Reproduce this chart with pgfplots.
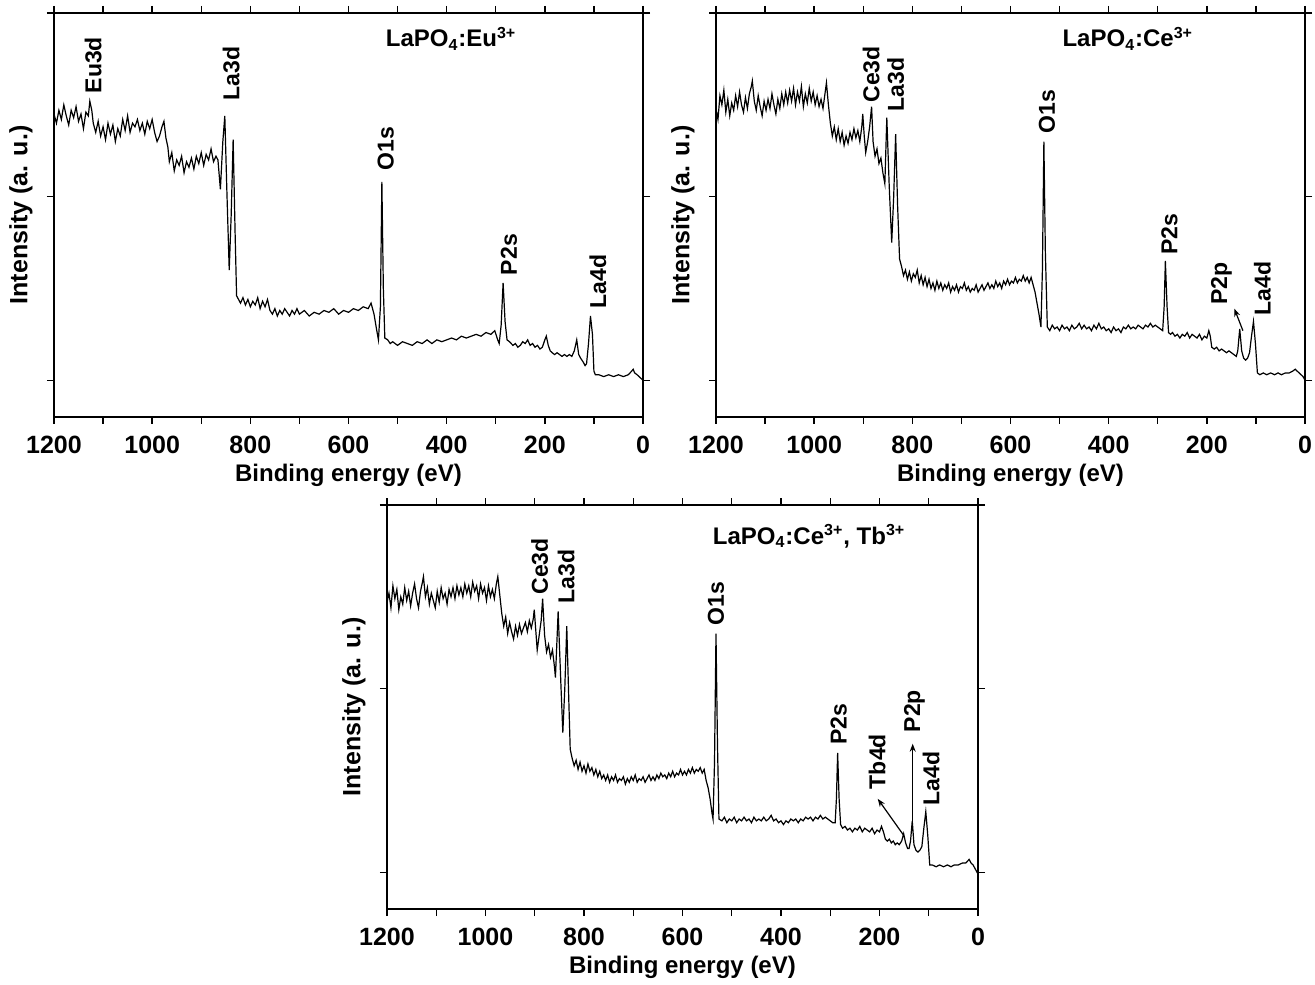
\documentclass[border=0pt]{standalone}
\usepackage{fontspec}
\setmainfont{Liberation Sans}
\usepackage{pgfplots}
\pgfplotsset{compat=1.18}
\usetikzlibrary{arrows.meta}

\pgfplotsset{
  xps/.style={
    scale only axis,
    anchor=south west,
    height=202pt,
    xmin=0, xmax=1200, x dir=reverse,
    ymin=0.8, ymax=3,
    xtick={0,200,...,1200},
    minor xtick={100,300,...,1100},
    ytick={1,2,3}, yticklabels={},
    tick align=outside,
    xtick pos=both, ytick pos=both,
    major tick length=3.5pt, minor tick length=3.5pt,
    tick style={black, line width=0.7pt},
    axis line style={line width=0.8pt},
    /pgf/number format/assume math mode=true,
    /pgf/number format/1000 sep={},
    xticklabel style={font=\fontsize{12.5}{14}\selectfont\bfseries, yshift=-2.5pt},
    xlabel={Binding energy (eV)},
    ylabel={Intensity (a. u.)},
    label style={font=\fontsize{12}{14}\selectfont\bfseries},
    ylabel style={font=\fontsize{12.5}{14}\selectfont\bfseries},
    xlabel style={at={(axis description cs:0.5,0)}, anchor=center, yshift=-29pt},
    ylabel style={at={(axis description cs:-0.056,0.5)}, anchor=center},
  },
  spec/.style={black, mark=none, line width=0.6pt},
}
\tikzset{
  pk/.style={rotate=90, anchor=west, font=\fontsize{11.5}{13}\selectfont\bfseries, inner sep=1pt},
  ttl/.style={font=\fontsize{12}{14}\selectfont\bfseries},
}

\begin{document}
\begin{tikzpicture}
\useasboundingbox (0,0) rectangle (657.5pt,492pt);

% LaPO4:Eu3+
\begin{axis}[xps, at={(27pt,283.5pt)}, width=294.5pt]
\addplot[spec] coordinates {
(1200,2.45) (1195,2.40) (1190,2.47) (1185,2.42) (1180,2.50) (1175,2.44) (1170,2.39) (1165,2.47)
(1160,2.43) (1155,2.49) (1150,2.41) (1145,2.45) (1140,2.37) (1135,2.46) (1130,2.44) (1127,2.52)
(1123,2.47) (1120,2.40) (1115,2.35) (1110,2.41) (1105,2.33) (1100,2.38) (1095,2.31) (1090,2.40)
(1085,2.34) (1080,2.39) (1075,2.30) (1070,2.37) (1065,2.33) (1060,2.42) (1055,2.36) (1050,2.44)
(1045,2.35) (1040,2.40) (1035,2.38) (1030,2.42) (1025,2.36) (1020,2.40) (1015,2.34) (1010,2.41)
(1005,2.37) (1000,2.42) (995,2.35) (990,2.30) (985,2.33) (980,2.38) (976,2.41) (972,2.32)
(968,2.27) (965,2.19) (960,2.24) (955,2.14) (950,2.20) (945,2.17) (940,2.22) (935,2.13)
(930,2.19) (925,2.16) (920,2.21) (915,2.15) (910,2.22) (905,2.18) (900,2.24) (895,2.17)
(890,2.23) (885,2.20) (880,2.26) (875,2.19) (870,2.22) (866,2.20) (861,2.04) (856,2.30)
(852,2.44) (848,2.05) (843,1.60) (839,1.90) (835,2.31) (831,1.80) (828,1.46) (824,1.44)
(820,1.42) (815,1.45) (810,1.41) (805,1.44) (800,1.40) (795,1.43) (790,1.41) (785,1.45)
(780,1.39) (775,1.43) (770,1.40) (765,1.44) (760,1.38) (755,1.36) (750,1.39) (745,1.35)
(740,1.38) (735,1.36) (730,1.39) (725,1.37) (720,1.35) (715,1.38) (710,1.36) (705,1.39)
(700,1.36) (690,1.38) (680,1.35) (670,1.37) (660,1.36) (650,1.38) (640,1.37) (630,1.39)
(620,1.36) (610,1.38) (600,1.37) (590,1.39) (580,1.38) (570,1.40) (560,1.39) (554,1.42)
(548,1.36) (543,1.28) (539,1.22) (535,1.40) (532,2.08) (529,1.50) (526,1.23) (520,1.22)
(515,1.20) (510,1.21) (500,1.19) (490,1.21) (480,1.20) (470,1.19) (460,1.21) (450,1.20)
(440,1.22) (430,1.20) (420,1.22) (410,1.21) (400,1.22) (390,1.23) (380,1.22) (370,1.24)
(360,1.23) (350,1.24) (340,1.25) (330,1.24) (320,1.26) (310,1.25) (302,1.27) (296,1.22)
(293,1.20) (289,1.30) (285,1.53) (281,1.32) (277,1.22) (272,1.21) (265,1.19) (260,1.20)
(255,1.18) (250,1.19) (245,1.21) (240,1.20) (235,1.22) (230,1.19) (225,1.20) (220,1.18)
(215,1.19) (210,1.17) (205,1.18) (200,1.22) (197,1.24) (193,1.19) (189,1.16) (185,1.15)
(180,1.14) (175,1.15) (170,1.14) (165,1.13) (160,1.14) (155,1.13) (150,1.14) (145,1.13)
(140,1.16) (135,1.22) (131,1.14) (127,1.12) (122,1.10) (118,1.08) (115,1.09) (111,1.20)
(107,1.35) (103,1.25) (100,1.05) (97,1.03) (90,1.03) (80,1.02) (70,1.03) (60,1.02)
(50,1.03) (40,1.02) (30,1.03) (23,1.05) (20,1.06) (17,1.04) (12,1.03) (8,1.02) (4,1.01) (0,1.00)
};
\node[ttl] at (axis cs:391,2.86) {LaPO\textsubscript{4}:Eu\textsuperscript{3+}};
\node[pk] at (axis cs:1120,2.55) {Eu3d};
\node[pk] at (axis cs:839,2.51) {La3d};
\node[pk] at (axis cs:524,2.13) {O1s};
\node[pk] at (axis cs:273,1.56) {P2s};
\node[pk] at (axis cs:92,1.38) {La4d};
\end{axis}

% LaPO4:Ce3+
\begin{axis}[xps, at={(358pt,283.5pt)}, width=294.5pt]
\addplot[spec] coordinates {
(1200,2.48) (1196,2.42) (1192,2.55) (1188,2.50) (1184,2.58) (1180,2.46) (1176,2.53) (1172,2.44)
(1168,2.51) (1164,2.47) (1160,2.55) (1156,2.49) (1152,2.57) (1148,2.50) (1144,2.46) (1140,2.54)
(1136,2.48) (1132,2.56) (1128,2.60) (1126,2.63) (1122,2.52) (1118,2.47) (1114,2.55) (1110,2.49)
(1106,2.44) (1102,2.52) (1098,2.47) (1094,2.53) (1090,2.48) (1086,2.56) (1082,2.50) (1078,2.45)
(1074,2.53) (1070,2.48) (1066,2.56) (1062,2.50) (1058,2.57) (1054,2.51) (1050,2.58) (1046,2.52)
(1042,2.59) (1038,2.50) (1034,2.57) (1030,2.52) (1026,2.60) (1022,2.49) (1018,2.56) (1014,2.51)
(1010,2.59) (1006,2.52) (1002,2.57) (998,2.50) (994,2.55) (990,2.49) (986,2.53) (982,2.48)
(978,2.56) (975,2.62) (971,2.50) (967,2.40) (963,2.33) (959,2.38) (955,2.31) (951,2.37)
(947,2.30) (943,2.35) (939,2.28) (935,2.33) (931,2.29) (927,2.35) (923,2.31) (919,2.37)
(915,2.32) (911,2.36) (907,2.30) (903,2.38) (901,2.45) (898,2.33) (895,2.24) (891,2.30)
(887,2.38) (883,2.49) (880,2.30) (876,2.22) (872,2.26) (868,2.18) (864,2.21) (860,2.13)
(856,2.07) (852,2.43) (847,2.05) (842,1.75) (838,2.00) (834,2.34) (830,1.95) (826,1.66)
(822,1.62) (818,1.57) (814,1.60) (810,1.55) (806,1.59) (802,1.54) (798,1.58) (794,1.56)
(790,1.60) (786,1.53) (782,1.57) (778,1.52) (774,1.56) (770,1.51) (766,1.55) (762,1.50)
(758,1.53) (754,1.49) (750,1.54) (746,1.50) (742,1.53) (738,1.49) (734,1.52) (730,1.50)
(726,1.53) (722,1.48) (718,1.51) (714,1.49) (710,1.52) (706,1.48) (702,1.51) (698,1.50)
(694,1.53) (690,1.49) (686,1.51) (682,1.48) (678,1.50) (674,1.49) (670,1.52) (666,1.48)
(662,1.50) (658,1.52) (654,1.49) (650,1.51) (646,1.53) (642,1.50) (638,1.52) (634,1.50)
(630,1.54) (626,1.51) (622,1.53) (618,1.50) (614,1.54) (610,1.52) (606,1.55) (602,1.52)
(598,1.54) (594,1.53) (590,1.56) (586,1.53) (582,1.55) (578,1.54) (574,1.57) (570,1.54)
(566,1.56) (562,1.53) (558,1.56) (554,1.52) (550,1.48) (546,1.42) (542,1.36) (538,1.29)
(535,1.60) (532,2.30) (529,1.70) (525,1.29) (520,1.27) (515,1.30) (510,1.28) (505,1.29)
(500,1.27) (495,1.30) (490,1.28) (485,1.29) (480,1.27) (475,1.30) (470,1.28) (465,1.29)
(460,1.31) (455,1.28) (450,1.30) (445,1.28) (440,1.29) (435,1.27) (430,1.30) (425,1.28)
(420,1.31) (415,1.28) (410,1.29) (405,1.27) (400,1.28) (395,1.26) (390,1.29) (385,1.27)
(380,1.28) (375,1.26) (370,1.29) (365,1.28) (360,1.30) (355,1.28) (350,1.29) (345,1.28)
(340,1.30) (335,1.29) (330,1.28) (325,1.30) (320,1.29) (315,1.31) (310,1.29) (305,1.30)
(300,1.29) (295,1.28) (290,1.27) (287,1.40) (284.5,1.65) (281,1.40) (278,1.26) (274,1.25)
(270,1.26) (265,1.24) (260,1.25) (255,1.23) (250,1.25) (245,1.24) (240,1.26) (235,1.23)
(230,1.25) (225,1.24) (220,1.23) (215,1.25) (210,1.22) (205,1.24) (200,1.23) (196,1.27)
(193,1.24) (190,1.18) (185,1.17) (180,1.18) (175,1.16) (170,1.17) (165,1.16) (160,1.15)
(155,1.16) (150,1.15) (145,1.14) (140,1.13) (137,1.16) (133,1.28) (129,1.16) (125,1.12)
(121,1.11) (117,1.12) (113,1.15) (109,1.24) (105,1.32) (101,1.20) (97,1.04) (92,1.03)
(85,1.04) (78,1.03) (70,1.04) (62,1.03) (55,1.04) (48,1.03) (40,1.04) (32,1.04)
(25,1.05) (20,1.06) (16,1.05) (12,1.04) (8,1.03) (4,1.02) (0,1.00)
};
\node[ttl] at (axis cs:361,2.86) {LaPO\textsubscript{4}:Ce\textsuperscript{3+}};
\node[pk] at (axis cs:884,2.50) {Ce3d};
\node[pk] at (axis cs:834,2.45) {La3d};
\node[pk] at (axis cs:526,2.33) {O1s};
\node[pk] at (axis cs:276,1.67) {P2s};
\node[pk] at (axis cs:170,1.40) {P2p};
\node[pk] at (axis cs:87,1.34) {La4d};
\draw[line width=0.6pt, -{Stealth[length=4pt]}] (axis cs:126.5,1.27) -- (axis cs:144,1.39);
\end{axis}

% LaPO4:Ce3+, Tb3+
\begin{axis}[xps, at={(193.5pt,37.5pt)}, width=295.5pt]
\addplot[spec] coordinates {
(1200,2.47) (1196,2.52) (1192,2.44) (1188,2.56) (1184,2.49) (1180,2.54) (1176,2.43) (1172,2.50)
(1168,2.46) (1164,2.55) (1160,2.48) (1156,2.53) (1152,2.45) (1148,2.52) (1144,2.57) (1140,2.49)
(1136,2.44) (1132,2.53) (1128,2.58) (1126,2.61) (1122,2.50) (1118,2.55) (1114,2.46) (1110,2.52)
(1106,2.48) (1102,2.44) (1098,2.53) (1094,2.47) (1090,2.55) (1086,2.49) (1082,2.52) (1078,2.46)
(1074,2.54) (1070,2.50) (1066,2.55) (1062,2.49) (1058,2.56) (1054,2.51) (1050,2.55) (1046,2.50)
(1042,2.57) (1038,2.52) (1034,2.56) (1030,2.50) (1026,2.58) (1022,2.53) (1018,2.56) (1014,2.49)
(1010,2.57) (1006,2.52) (1002,2.55) (998,2.48) (994,2.56) (990,2.50) (986,2.54) (982,2.49)
(978,2.57) (975,2.61) (971,2.51) (967,2.41) (963,2.34) (959,2.39) (955,2.30) (951,2.36)
(947,2.31) (943,2.27) (939,2.34) (935,2.29) (931,2.35) (927,2.30) (923,2.33) (919,2.36)
(915,2.31) (911,2.37) (907,2.33) (903,2.38) (901,2.43) (898,2.32) (895,2.21) (891,2.29)
(887,2.37) (884,2.49) (880,2.29) (876,2.20) (872,2.24) (868,2.17) (864,2.21) (860,2.12)
(858,2.06) (852.5,2.42) (847,2.03) (843,1.76) (839,2.00) (835,2.34) (831,1.95) (828,1.67)
(824,1.62) (820,1.58) (816,1.61) (812,1.56) (808,1.60) (804,1.55) (800,1.58) (796,1.54)
(792,1.59) (788,1.55) (784,1.57) (780,1.53) (776,1.56) (772,1.52) (768,1.55) (764,1.51)
(760,1.53) (756,1.50) (752,1.53) (748,1.49) (744,1.52) (740,1.50) (736,1.53) (732,1.49)
(728,1.51) (724,1.50) (720,1.52) (716,1.48) (712,1.51) (708,1.49) (704,1.52) (700,1.50)
(696,1.53) (692,1.49) (688,1.51) (684,1.50) (680,1.52) (676,1.49) (672,1.51) (668,1.53)
(664,1.50) (660,1.52) (656,1.50) (652,1.53) (648,1.51) (644,1.54) (640,1.52) (636,1.53)
(632,1.51) (628,1.54) (624,1.52) (620,1.55) (616,1.52) (612,1.54) (608,1.53) (604,1.56)
(600,1.53) (596,1.55) (592,1.53) (588,1.56) (584,1.54) (580,1.57) (576,1.54) (572,1.56)
(568,1.55) (564,1.57) (560,1.54) (556,1.56) (552,1.50) (548,1.46) (544,1.40) (540,1.32)
(538,1.29) (535,1.60) (532,2.30) (529,1.70) (526,1.29) (520,1.28) (515,1.30) (510,1.27)
(505,1.29) (500,1.28) (495,1.30) (490,1.27) (485,1.29) (480,1.28) (475,1.30) (470,1.28)
(465,1.29) (460,1.27) (455,1.30) (450,1.28) (445,1.29) (440,1.28) (435,1.30) (430,1.28)
(425,1.29) (420,1.31) (415,1.28) (410,1.29) (405,1.27) (400,1.28) (395,1.26) (390,1.28)
(385,1.27) (380,1.29) (375,1.28) (370,1.29) (365,1.27) (360,1.29) (355,1.28) (350,1.30)
(345,1.29) (340,1.30) (335,1.28) (330,1.30) (325,1.29) (320,1.31) (315,1.29) (310,1.30)
(305,1.29) (300,1.28) (295,1.27) (290,1.27) (287.5,1.40) (285,1.65) (282,1.40) (279,1.26)
(275,1.24) (270,1.25) (265,1.23) (260,1.24) (255,1.22) (250,1.24) (245,1.23) (240,1.25)
(235,1.22) (230,1.24) (225,1.23) (220,1.22) (215,1.24) (210,1.21) (205,1.23) (200,1.22)
(196,1.25) (192,1.22) (188,1.18) (184,1.17) (180,1.18) (176,1.16) (172,1.17) (168,1.15)
(164,1.16) (160,1.15) (155,1.17) (151,1.21) (147,1.16) (143,1.13) (140,1.13) (137,1.17)
(133.5,1.28) (130,1.15) (126,1.12) (122,1.11) (118,1.12) (114,1.14) (110,1.24) (106,1.33)
(102,1.20) (98,1.04) (93,1.04) (85,1.03) (78,1.04) (70,1.03) (62,1.04) (55,1.03)
(48,1.04) (40,1.04) (32,1.05) (25,1.05) (18,1.07) (14,1.05) (10,1.04) (6,1.02) (2,1.00) (0,0.99)
};
\node[ttl] at (axis cs:343,2.83) {LaPO\textsubscript{4}:Ce\textsuperscript{3+}, Tb\textsuperscript{3+}};
\node[pk] at (axis cs:890,2.50) {Ce3d};
\node[pk] at (axis cs:836,2.45) {La3d};
\node[pk] at (axis cs:532,2.33) {O1s};
\node[pk] at (axis cs:283,1.68) {P2s};
\node[pk] at (axis cs:205,1.44) {Tb4d};
\node[pk] at (axis cs:129,1.75) {P2p};
\node[pk] at (axis cs:95,1.35) {La4d};
\draw[line width=0.6pt, -{Stealth[length=4pt]}] (axis cs:150.6,1.20) -- (axis cs:203.6,1.40);
\draw[line width=0.6pt, -{Stealth[length=4pt]}] (axis cs:132.6,1.28) -- (axis cs:132.6,1.70);
\end{axis}
\end{tikzpicture}
\end{document}
